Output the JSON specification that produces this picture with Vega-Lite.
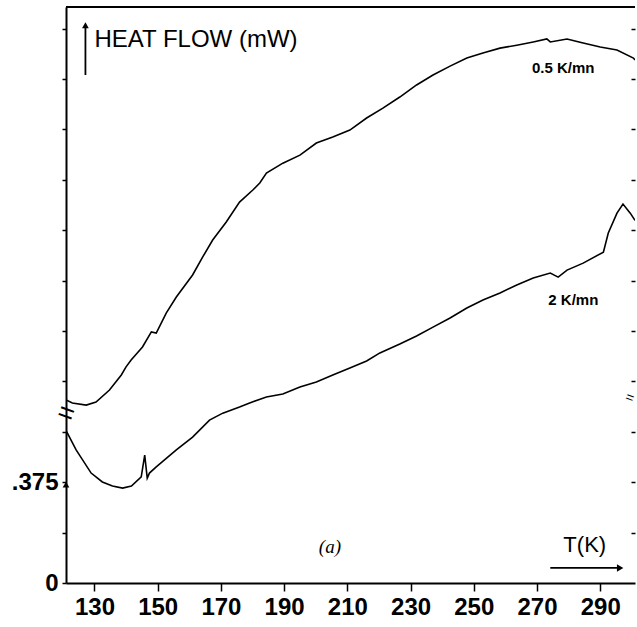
{
  "$schema": "https://vega.github.io/schema/vega-lite/v6.json",
  "width": 569,
  "height": 576,
  "autosize": "none",
  "padding": {"left": 66, "top": 7, "right": 2, "bottom": 44},
  "background": "white",
  "config": {
    "view": {"stroke": null},
    "axis": {"grid": false, "domainColor": "black", "tickColor": "black", "labelColor": "black"}
  },
  "datasets": {
    "curves": [
      {"rate": "2 K/mn", "T": 121.2, "hf": 0.563},
      {"rate": "2 K/mn", "T": 124.2, "hf": 0.495},
      {"rate": "2 K/mn", "T": 128.95, "hf": 0.409},
      {"rate": "2 K/mn", "T": 132.5, "hf": 0.376},
      {"rate": "2 K/mn", "T": 135.7, "hf": 0.361},
      {"rate": "2 K/mn", "T": 138.9, "hf": 0.353},
      {"rate": "2 K/mn", "T": 141.7, "hf": 0.361},
      {"rate": "2 K/mn", "T": 144.8, "hf": 0.395},
      {"rate": "2 K/mn", "T": 145.9, "hf": 0.476},
      {"rate": "2 K/mn", "T": 146.7, "hf": 0.39},
      {"rate": "2 K/mn", "T": 147.4, "hf": 0.409},
      {"rate": "2 K/mn", "T": 149.55, "hf": 0.432},
      {"rate": "2 K/mn", "T": 155.9, "hf": 0.495},
      {"rate": "2 K/mn", "T": 161.05, "hf": 0.543},
      {"rate": "2 K/mn", "T": 166.4, "hf": 0.606},
      {"rate": "2 K/mn", "T": 170.6, "hf": 0.632},
      {"rate": "2 K/mn", "T": 175.9, "hf": 0.655},
      {"rate": "2 K/mn", "T": 179.1, "hf": 0.67},
      {"rate": "2 K/mn", "T": 184.4, "hf": 0.692},
      {"rate": "2 K/mn", "T": 189.6, "hf": 0.703},
      {"rate": "2 K/mn", "T": 195.0, "hf": 0.729},
      {"rate": "2 K/mn", "T": 200.2, "hf": 0.748},
      {"rate": "2 K/mn", "T": 205.4, "hf": 0.774},
      {"rate": "2 K/mn", "T": 210.8, "hf": 0.8},
      {"rate": "2 K/mn", "T": 216.1, "hf": 0.826},
      {"rate": "2 K/mn", "T": 220.3, "hf": 0.856},
      {"rate": "2 K/mn", "T": 226.6, "hf": 0.889},
      {"rate": "2 K/mn", "T": 231.9, "hf": 0.919},
      {"rate": "2 K/mn", "T": 237.1, "hf": 0.952},
      {"rate": "2 K/mn", "T": 242.5, "hf": 0.986},
      {"rate": "2 K/mn", "T": 247.8, "hf": 1.023},
      {"rate": "2 K/mn", "T": 252.9, "hf": 1.053},
      {"rate": "2 K/mn", "T": 258.3, "hf": 1.079},
      {"rate": "2 K/mn", "T": 263.6, "hf": 1.109},
      {"rate": "2 K/mn", "T": 268.8, "hf": 1.135},
      {"rate": "2 K/mn", "T": 274.2, "hf": 1.153},
      {"rate": "2 K/mn", "T": 276.7, "hf": 1.138},
      {"rate": "2 K/mn", "T": 279.5, "hf": 1.164},
      {"rate": "2 K/mn", "T": 284.6, "hf": 1.19},
      {"rate": "2 K/mn", "T": 291.0, "hf": 1.231},
      {"rate": "2 K/mn", "T": 292.55, "hf": 1.302},
      {"rate": "2 K/mn", "T": 295.3, "hf": 1.376},
      {"rate": "2 K/mn", "T": 297.2, "hf": 1.41},
      {"rate": "2 K/mn", "T": 299.5, "hf": 1.376},
      {"rate": "2 K/mn", "T": 301.0, "hf": 1.349},
      {"rate": "0.5 K/mn", "T": 121.03, "hf": 0.681},
      {"rate": "0.5 K/mn", "T": 123.0, "hf": 0.67},
      {"rate": "0.5 K/mn", "T": 127.4, "hf": 0.662},
      {"rate": "0.5 K/mn", "T": 130.5, "hf": 0.673},
      {"rate": "0.5 K/mn", "T": 134.75, "hf": 0.718},
      {"rate": "0.5 K/mn", "T": 138.5, "hf": 0.774},
      {"rate": "0.5 K/mn", "T": 140.0, "hf": 0.804},
      {"rate": "0.5 K/mn", "T": 141.6, "hf": 0.83},
      {"rate": "0.5 K/mn", "T": 145.2, "hf": 0.878},
      {"rate": "0.5 K/mn", "T": 148.0, "hf": 0.934},
      {"rate": "0.5 K/mn", "T": 149.55, "hf": 0.93},
      {"rate": "0.5 K/mn", "T": 152.7, "hf": 1.004},
      {"rate": "0.5 K/mn", "T": 155.9, "hf": 1.064},
      {"rate": "0.5 K/mn", "T": 161.05, "hf": 1.146},
      {"rate": "0.5 K/mn", "T": 164.3, "hf": 1.214},
      {"rate": "0.5 K/mn", "T": 167.4, "hf": 1.276},
      {"rate": "0.5 K/mn", "T": 171.7, "hf": 1.343},
      {"rate": "0.5 K/mn", "T": 175.9, "hf": 1.417},
      {"rate": "0.5 K/mn", "T": 180.1, "hf": 1.462},
      {"rate": "0.5 K/mn", "T": 182.3, "hf": 1.488},
      {"rate": "0.5 K/mn", "T": 184.4, "hf": 1.525},
      {"rate": "0.5 K/mn", "T": 189.6, "hf": 1.562},
      {"rate": "0.5 K/mn", "T": 195.0, "hf": 1.592},
      {"rate": "0.5 K/mn", "T": 200.2, "hf": 1.637},
      {"rate": "0.5 K/mn", "T": 205.4, "hf": 1.659},
      {"rate": "0.5 K/mn", "T": 210.8, "hf": 1.685},
      {"rate": "0.5 K/mn", "T": 216.1, "hf": 1.73},
      {"rate": "0.5 K/mn", "T": 221.25, "hf": 1.767},
      {"rate": "0.5 K/mn", "T": 226.6, "hf": 1.808},
      {"rate": "0.5 K/mn", "T": 231.9, "hf": 1.853},
      {"rate": "0.5 K/mn", "T": 237.1, "hf": 1.89},
      {"rate": "0.5 K/mn", "T": 242.5, "hf": 1.923},
      {"rate": "0.5 K/mn", "T": 247.8, "hf": 1.953},
      {"rate": "0.5 K/mn", "T": 252.9, "hf": 1.972},
      {"rate": "0.5 K/mn", "T": 258.3, "hf": 1.99},
      {"rate": "0.5 K/mn", "T": 263.6, "hf": 2.001},
      {"rate": "0.5 K/mn", "T": 268.8, "hf": 2.013},
      {"rate": "0.5 K/mn", "T": 273.1, "hf": 2.024},
      {"rate": "0.5 K/mn", "T": 274.2, "hf": 2.013},
      {"rate": "0.5 K/mn", "T": 279.5, "hf": 2.024},
      {"rate": "0.5 K/mn", "T": 284.6, "hf": 2.009},
      {"rate": "0.5 K/mn", "T": 290.0, "hf": 1.994},
      {"rate": "0.5 K/mn", "T": 295.3, "hf": 1.983},
      {"rate": "0.5 K/mn", "T": 300.5, "hf": 1.953},
      {"rate": "0.5 K/mn", "T": 301.0, "hf": 1.946}
    ],
    "rateLabels": [
      {"T": 278.3, "hf": 1.916, "label": "0.5 K/mn"},
      {"T": 281.5, "hf": 1.053, "label": "2 K/mn"}
    ],
    "titleLabel": [{"T": 130.0, "hf": 2.02, "label": "HEAT FLOW (mW)"}],
    "panelLabel": [{"T": 204.5, "hf": 0.134, "label": "(a)"}],
    "axisLabel": [{"T": 285.1, "hf": 0.141, "label": "T(K)"}],
    "arrows": [
      {"T": 274.2, "T2": 296.5, "hf": 0.056, "hf2": 0.056},
      {"T": 127.15, "T2": 127.15, "hf": 1.89, "hf2": 2.07},
      {"T": 121.0, "T2": 301.0, "hf": 2.143, "hf2": 2.143}
    ],
    "headsUp": [
      {"T": 127.15, "hf": 2.075},
      {"T": 121.0, "hf": 0.366}
    ],
    "headsRight": [{"T": 296.3, "hf": 0.056}],
    "breakLeft": [{"T": 121.0, "hf": 0.629, "label": "="}],
    "breakRight": [{"T": 299.3, "hf": 0.688, "label": "="}]
  },
  "resolve": {"axis": {"x": "independent", "y": "independent"}},
  "layer": [
    {
      "data": {"name": "curves"},
      "mark": {"type": "line", "color": "black", "strokeWidth": 1.6, "clip": true},
      "encoding": {
        "x": {
          "field": "T", "type": "quantitative",
          "scale": {"domain": [121, 301], "nice": false, "zero": false},
          "axis": {
            "title": null, "values": [130, 150, 170, 190, 210, 230, 250, 270, 290],
            "tickSize": 8, "tickWidth": 1.5, "domainWidth": 2,
            "labelFont": "Liberation Sans", "labelFontSize": 24, "labelFontWeight": "bold",
            "labelPadding": 4, "labelDx": 4, "labelFlush": false, "labelOverlap": false
          }
        },
        "y": {
          "field": "hf", "type": "quantitative",
          "scale": {"domain": [0, 2.143], "nice": false},
          "axis": {
            "title": null,
            "values": [0, 0.1875, 0.375, 0.5625, 0.75, 0.9375, 1.125, 1.3125, 1.5, 1.6875, 1.875, 2.0625],
            "labelExpr": "datum.value == 0 ? '0' : (abs(datum.value - 0.375) < 0.001 ? '.375' : '')",
            "tickSize": 4, "tickWidth": 1.5, "domainWidth": 2,
            "labelFont": "Liberation Sans", "labelFontSize": 24, "labelFontWeight": "bold",
            "labelPadding": 4, "labelFlush": false, "labelOverlap": false
          }
        },
        "detail": {"field": "rate"}
      }
    },
    {
      "data": {"name": "arrows"},
      "mark": {"type": "rule", "color": "black", "strokeWidth": 1.8},
      "encoding": {
        "x": {"field": "T", "type": "quantitative", "axis": null},
        "x2": {"field": "T2"},
        "y": {
          "field": "hf", "type": "quantitative",
          "axis": {
            "orient": "right", "title": null, "labels": false, "domain": false,
            "values": [0.1875, 0.375, 0.5625, 0.75, 0.9375, 1.125, 1.3125, 1.5, 1.6875, 1.875, 2.0625],
            "tickSize": -4, "tickWidth": 1.5
          }
        },
        "y2": {"field": "hf2"}
      }
    },
    {
      "data": {"name": "headsUp"},
      "mark": {"type": "point", "shape": "triangle-up", "filled": true, "color": "black", "size": 45, "opacity": 1},
      "encoding": {
        "x": {"field": "T", "type": "quantitative", "axis": null},
        "y": {"field": "hf", "type": "quantitative", "axis": null}
      }
    },
    {
      "data": {"name": "headsRight"},
      "mark": {"type": "point", "shape": "triangle-right", "filled": true, "color": "black", "size": 55, "opacity": 1},
      "encoding": {
        "x": {"field": "T", "type": "quantitative", "axis": null},
        "y": {"field": "hf", "type": "quantitative", "axis": null}
      }
    },
    {
      "data": {"name": "rateLabels"},
      "mark": {"type": "text", "font": "Liberation Sans", "fontSize": 15, "fontWeight": "bold", "color": "black", "align": "center", "baseline": "middle"},
      "encoding": {
        "x": {"field": "T", "type": "quantitative", "axis": null},
        "y": {"field": "hf", "type": "quantitative", "axis": null},
        "text": {"field": "label"}
      }
    },
    {
      "data": {"name": "titleLabel"},
      "mark": {"type": "text", "font": "Liberation Sans", "fontSize": 24, "color": "black", "align": "left", "baseline": "middle"},
      "encoding": {
        "x": {"field": "T", "type": "quantitative", "axis": null},
        "y": {"field": "hf", "type": "quantitative", "axis": null},
        "text": {"field": "label"}
      }
    },
    {
      "data": {"name": "panelLabel"},
      "mark": {"type": "text", "font": "Liberation Serif", "fontSize": 19, "fontStyle": "italic", "color": "black", "align": "center", "baseline": "middle"},
      "encoding": {
        "x": {"field": "T", "type": "quantitative", "axis": null},
        "y": {"field": "hf", "type": "quantitative", "axis": null},
        "text": {"field": "label"}
      }
    },
    {
      "data": {"name": "axisLabel"},
      "mark": {"type": "text", "font": "Liberation Sans", "fontSize": 22, "color": "black", "align": "center", "baseline": "middle"},
      "encoding": {
        "x": {"field": "T", "type": "quantitative", "axis": null},
        "y": {"field": "hf", "type": "quantitative", "axis": null},
        "text": {"field": "label"}
      }
    },
    {
      "data": {"name": "breakLeft"},
      "mark": {"type": "text", "font": "Liberation Sans", "fontSize": 28, "angle": 20, "color": "black", "align": "center", "baseline": "middle"},
      "encoding": {
        "x": {"field": "T", "type": "quantitative", "axis": null},
        "y": {"field": "hf", "type": "quantitative", "axis": null},
        "text": {"field": "label"}
      }
    },
    {
      "data": {"name": "breakRight"},
      "mark": {"type": "text", "font": "Liberation Sans", "fontSize": 14, "angle": 20, "color": "black", "align": "center", "baseline": "middle"},
      "encoding": {
        "x": {"field": "T", "type": "quantitative", "axis": null},
        "y": {"field": "hf", "type": "quantitative", "axis": null},
        "text": {"field": "label"}
      }
    }
  ]
}
